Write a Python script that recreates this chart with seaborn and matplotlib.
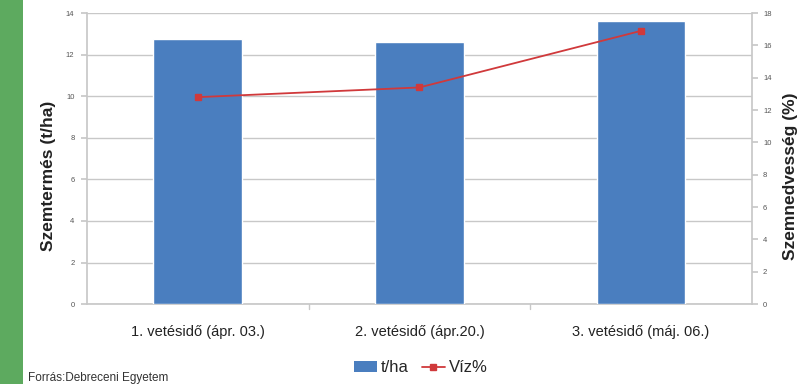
import matplotlib
matplotlib.use("Agg")
import matplotlib.pyplot as plt
import seaborn as sns
import pandas as pd
from matplotlib.patches import Rectangle
from matplotlib.lines import Line2D

# Data
categories = ["1. vetésidő (ápr. 03.)", "2. vetésidő (ápr.20.)", "3. vetésidő (máj. 06.)"]
yield_tha = [12.75, 12.6, 13.6]
moisture_pct = [12.8, 13.4, 16.9]

bar_color = "#4A7EBF"
line_color = "#D0393B"
grid_color = "#C8C8C8"

df = pd.DataFrame({"vetésidő": categories, "t/ha": yield_tha, "Víz%": moisture_pct})

sns.set_theme(style="white")
plt.rcParams["font.family"] = ["Liberation Sans", "DejaVu Sans"]

fig = plt.figure(figsize=(8.12, 3.84), dpi=100)
ax = fig.add_axes([0.107, 0.208, 0.819, 0.758])

# green side strip
fig.patches.append(Rectangle((0, 0), 23 / 812, 1, transform=fig.transFigure,
                             facecolor="#5DAA5F", edgecolor="none", zorder=0))

sns.barplot(data=df, x="vetésidő", y="t/ha", color=bar_color, width=0.4,
            saturation=1, ax=ax, zorder=3)
ax.set_ylim(0, 14)
ax.set_yticks(range(0, 15, 2))
ax.set_xlim(-0.5, 2.5)
ax.yaxis.grid(True, color=grid_color, linewidth=1.0, zorder=0)
ax.set_axisbelow(True)

ax2 = ax.twinx()
sns.pointplot(data=df, x="vetésidő", y="Víz%", color=line_color, markers="s",
              markersize=4, linewidth=1.3, ax=ax2)
ax2.set_ylim(0, 18)
ax2.set_yticks(range(0, 19, 2))
ax2.set_xlim(-0.5, 2.5)

for a in (ax, ax2):
    for s in a.spines.values():
        s.set_visible(False)
for side in ("left", "bottom"):
    ax.spines[side].set_visible(True)
    ax.spines[side].set_color(grid_color)
ax2.spines["right"].set_visible(True)
ax2.spines["right"].set_color(grid_color)

ax.tick_params(axis="y", length=4, color=grid_color, labelsize=5.5,
               labelcolor="#555555", pad=5, left=True)
ax2.tick_params(axis="y", length=4, color=grid_color, labelsize=5.5,
                labelcolor="#555555", pad=4, right=True)

# category boundary ticks
ax.set_xticks([0, 1, 2])
ax.set_xticklabels(categories, fontsize=10.5, color="#222222")
ax.tick_params(axis="x", length=0, pad=15)
for xb in [0.5, 1.5]:
    ax.plot([xb, xb], [0, -0.25], color=grid_color, lw=1, clip_on=False, zorder=2)

ax.set_xlabel("")
ax.set_ylabel("Szemtermés (t/ha)", fontsize=12.5, fontweight="bold", color="#222222")
ax.yaxis.set_label_coords(-0.046, 0.44)
ax2.set_ylabel("Szemnedvesség (%)", fontsize=12.5, fontweight="bold", color="#222222",
               rotation=90)
ax2.yaxis.set_label_coords(1.047, 0.44)

handles = [Rectangle((0, 0), 1, 1, facecolor=bar_color, edgecolor="none"),
           Line2D([0], [0], color=line_color, marker="s", markersize=4, lw=1.3)]
fig.legend(handles, ["t/ha", "Víz%"], loc="center", bbox_to_anchor=(0.518, 0.042),
           ncol=2, frameon=False, fontsize=12, handlelength=1.4, handletextpad=0.2,
           columnspacing=0.8)

fig.text(28 / 812, 1 - 378 / 384, "Forrás:Debreceni Egyetem", fontsize=8.5,
         color="#333333", va="center", ha="left")

fig.savefig("out.png", dpi=100)
